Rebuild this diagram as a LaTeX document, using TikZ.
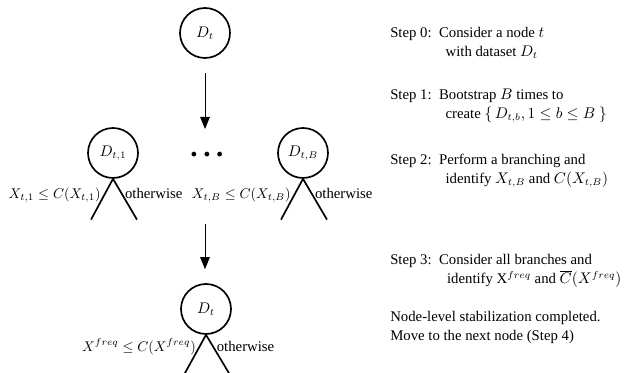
\documentclass[tikz,border=0pt]{standalone}
\usepackage{fontspec}
\setmainfont{Liberation Serif}
\usepackage{amsmath}
\usetikzlibrary{arrows.meta, positioning, calc}
\newcommand{\stepfont}{\fontsize{10.5}{13.5}\selectfont}
\newcommand{\condfont}{\fontsize{9.6}{12}\selectfont}
\tikzset{
  dnode/.style={circle, draw, line width=1.2pt, minimum size=1.25cm, inner sep=0pt, font=\stepfont},
  leg/.style={line width=1.2pt},
  arrow/.style={-{Triangle[length=3mm, width=2.4mm]}, semithick},
  cond/.style={font=\condfont, inner sep=2pt},
  other/.style={font=\stepfont, inner sep=2pt},
  steptext/.style={anchor=west, align=left, font=\stepfont, inner sep=0pt},
}

\begin{document}
\begin{tikzpicture}
\useasboundingbox (0,0) rectangle (15.75,9.325);
% original node
\node[dnode] (top) at (5.125,8.5) {$D_t$};
% bootstrap trees
\node[dnode] (c1) at (2.825,5.5) {$D_{t,1}$};
\node[dnode] (cB) at (7.575,5.5) {$D_{t,B}$};
\node[font=\huge\bfseries, anchor=base] (dots) at (5.175,5.4) {.\hspace{4pt}.\hspace{4pt}.};
\draw[leg] (c1.south) -- ++(-0.55,-1.02) coordinate (c1l) node[cond, pos=0.4, left]{$X_{t,1} \le C(X_{t,1})$};
\draw[leg] (c1.south) -- ++(0.6,-1.02) coordinate (c1r) node[other, pos=0.35, right]{otherwise};
\draw[leg] (cB.south) -- ++(-0.55,-1.02) coordinate (cBl) node[cond, pos=0.4, left]{$X_{t,B} \le C(X_{t,B})$};
\draw[leg] (cB.south) -- ++(0.6,-1.02) coordinate (cBr) node[other, pos=0.35, right]{otherwise};
% aggregated node
\node[dnode] (bot) at (5.15,1.6) {$D_t$};
\draw[leg] (bot.south) -- ++(-0.55,-1.0) coordinate (botl) node[cond, pos=0.3, left]{$X^{freq} \le C(X^{freq})$};
\draw[leg] (bot.south) -- ++(0.6,-1.0) coordinate (botr) node[other, pos=0.3, right]{otherwise};
% arrows
\draw[arrow, shorten <=0.35cm] (top.south) -- ([yshift=0.7cm]top.south |- dots.base);
\draw[arrow, shorten <=0.12cm, shorten >=0.35cm] (top.south |- c1l) -- (top.south |- bot.north);
% steps
\node[steptext] (s0) at (9.75,8.25) {Step 0:\ \ Consider a node $t$\\ \hspace{3.75em}with dataset $D_t$};
\node[steptext] (s1) at (9.75,6.675) {Step 1:\ \ Bootstrap $B$ times to\\ \hspace{3.75em}create $\{\,D_{t,b}, 1 \le b \le B\ \}$};
\node[steptext] (s2) at (9.75,5.05) {Step 2:\ \ Perform a branching and\\ \hspace{3.75em}identify $X_{t,B}$ and $C(X_{t,B})$};
\node[steptext] (s3) at (9.75,2.55) {Step 3:\ \ Consider all branches and\\ \hspace{3.85em}identify X$^{freq}$ and $\overline{C}(X^{freq})$};
\node[steptext] (s4) at (9.75,1.14) {Node-level stabilization completed.\\ Move to the next node (Step 4)};
\end{tikzpicture}
\end{document}
